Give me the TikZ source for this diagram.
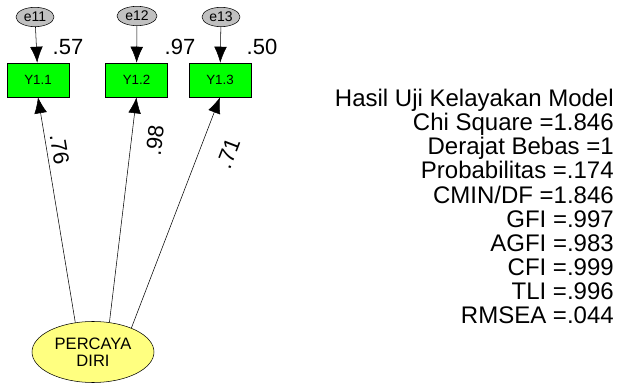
\documentclass[tikz,border=0pt]{standalone}
\usepackage{fontspec}
\setmainfont{Liberation Sans}
\usetikzlibrary{arrows.meta,shapes.geometric}
\definecolor{errgray}{RGB}{192,192,192}
\definecolor{indgreen}{RGB}{0,255,0}
\definecolor{latyellow}{RGB}{255,255,128}
\begin{document}
\begin{tikzpicture}[x=0.75pt,y=0.75pt,> = {Latex[length=12pt,width=9.5pt]},
	err/.style={draw,ellipse,fill=errgray,inner sep=0pt,minimum width=28.5pt,minimum height=14.5pt,font=\fontsize{10.5}{12}\selectfont},
	ind/.style={draw,rectangle,fill=indgreen,inner sep=0pt,minimum width=46.5pt,minimum height=25.5pt,font=\fontsize{10}{11}\selectfont},
	lat/.style={draw,ellipse,fill=latyellow,inner sep=0pt,minimum width=91.5pt,minimum height=45.75pt,align=center,font=\fontsize{12.4}{12.75}\selectfont},
	num/.style={inner sep=0pt,font=\fontsize{16.5}{18}\selectfont}]
		\useasboundingbox (0,0) rectangle (618,386);
		\node[err] (e11) at (35,369) {e11};
		\node[err,minimum width=30pt] (e12) at (137,370) {e12};
		\node[err] (e13) at (221,369) {e13};
		\node[ind] (y11) at (38,306) {Y1.1};
		\node[ind] (y12) at (136.5,306) {Y1.2};
		\node[ind] (y13) at (220,306) {Y1.3};
		\node[lat] (percaya) at (93,34) {PERCAYA\\DIRI};
		\draw[->] (e11) -- (y11);
		\draw[->] (e12) -- (y12);
		\draw[->] (e13) -- (y13);
		\node[num] (r11) at (68,339) {.57};
		\node[num] (r12) at (180,339) {.97};
		\node[num] (r13) at (262,339) {.50};
		\draw[->] (percaya.121) -- (y11.south)
		node[num,pos=0.76,sloped,above=3.5pt]{.76};
		\draw[->] (percaya.61) -- (y12.south)
		node[num,pos=0.82,sloped,below=11.5pt]{.98};
		\draw[->] (percaya.32) -- (y13.south)
		node[num,pos=0.8,sloped,below=15pt]{.71};
		\node[align=right,anchor=east,inner sep=0pt,font=\fontsize{18}{18.1}\selectfont] (fit) at (614,179.5)
		{Hasil Uji Kelayakan Model\\Chi Square =1.846\\Derajat Bebas =1\\Probabilitas =.174\\CMIN/DF =1.846\\GFI =.997\\AGFI =.983\\CFI =.999\\TLI =.996\\RMSEA =.044};
	\end{tikzpicture}
\end{document}
